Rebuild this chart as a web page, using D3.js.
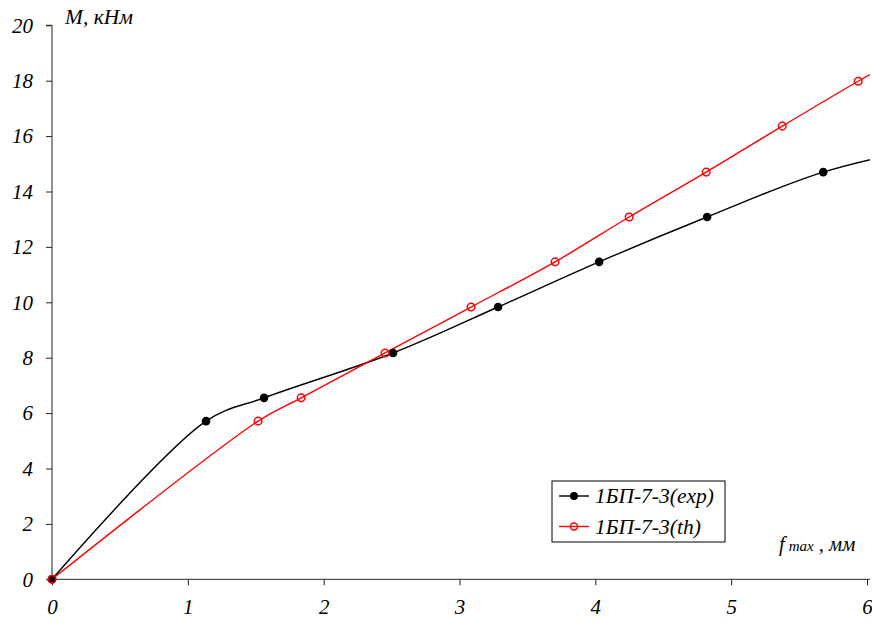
<!DOCTYPE html>
<html>
<head>
<meta charset="utf-8">
<script src="https://cdn.jsdelivr.net/npm/d3@7"></script>
<style>
  body { margin: 0; background: #fff; }
</style>
</head>
<body>
<svg width="872" height="623"></svg>
<script>
// data
var expX = [0, 1.134, 1.561, 2.511, 3.284, 4.028, 4.823, 5.678, 6.45];
var expY = [0, 5.71, 6.55, 8.17, 9.83, 11.46, 13.08, 14.70, 15.6];
var thX = [0, 1.517, 1.834, 2.452, 3.085, 3.704, 4.249, 4.816, 5.376, 5.935, 6.5];
var thY = [0, 5.71, 6.55, 8.17, 9.83, 11.46, 13.08, 14.70, 16.36, 17.98, 19.55];
var xTicks = [0, 1, 2, 3, 4, 5, 6];
var yTicks = [0, 2, 4, 6, 8, 10, 12, 14, 16, 18, 20];
var seriesNames = ["1БП-7-3(exp)", "1БП-7-3(th)"];

var FONT = "Liberation Serif";
var svg = d3.select("svg");

var x = d3.scaleLinear().domain([0, 6]).range([52, 867]);
var y = d3.scaleLinear().domain([0, 20]).range([579.3, 25.3]);

// axes
var xAxis = svg.append("g")
  .attr("transform", "translate(0," + y(0) + ")")
  .call(d3.axisBottom(x).tickValues(xTicks).tickSize(6).tickPadding(14).tickFormat(d3.format("d")));
xAxis.attr("font-family", FONT).attr("font-style", "italic").attr("font-size", 21);
xAxis.select(".domain").attr("d", "M" + x(0) + ",0H870").attr("stroke", "#222");
xAxis.selectAll(".tick line").attr("stroke", "#222");
xAxis.selectAll(".tick text").attr("fill", "#000");

var yAxis = svg.append("g")
  .attr("transform", "translate(" + x(0) + ",0)")
  .call(d3.axisLeft(y).tickValues(yTicks).tickSize(6).tickPadding(13).tickFormat(d3.format("d")));
yAxis.attr("font-family", FONT).attr("font-style", "italic").attr("font-size", 21);
yAxis.select(".domain").attr("d", "M-6," + y(20) + "H0V" + y(0)).attr("stroke", "#222");
yAxis.selectAll(".tick line").attr("stroke", "#222");
yAxis.selectAll(".tick text").attr("fill", "#000");

// axis titles
svg.append("text").attr("x", 65).attr("y", 24)
  .attr("font-family", FONT).attr("font-style", "italic").attr("font-size", 21.5).text("M, кНм");
var xt = svg.append("text").attr("x", 779).attr("y", 551)
  .attr("font-family", FONT).attr("font-style", "italic").attr("font-size", 20.5);
xt.append("tspan").text("f");
xt.append("tspan").attr("font-size", 15).attr("dx", 4).text("max");
xt.append("tspan").text(" , мм");

// clip to plot
svg.append("clipPath").attr("id", "clip")
  .append("rect").attr("x", 40).attr("y", 10).attr("width", 830).attr("height", 590);

var line = d3.line()
  .x(function(d) { return x(d[0]); })
  .y(function(d) { return y(d[1]); })
  .curve(d3.curveCatmullRom.alpha(0.5));

var expData = d3.zip(expX, expY);
var thData = d3.zip(thX, thY);

var plot = svg.append("g").attr("clip-path", "url(#clip)");

plot.append("path").datum(expData)
  .attr("d", line).attr("fill", "none").attr("stroke", "#000").attr("stroke-width", 1.4);
plot.append("path").datum(thData)
  .attr("d", line).attr("fill", "none").attr("stroke", "#f00").attr("stroke-width", 1.4);

plot.selectAll(".exp").data(expData.filter(function(d) { return d[0] <= 6; }))
  .enter().append("circle")
  .attr("cx", function(d) { return x(d[0]); })
  .attr("cy", function(d) { return y(d[1]); })
  .attr("r", 4.3).attr("fill", "#000");

plot.selectAll(".th").data(thData.filter(function(d) { return d[0] <= 6; }))
  .enter().append("circle")
  .attr("cx", function(d) { return x(d[0]); })
  .attr("cy", function(d) { return y(d[1]); })
  .attr("r", 3.8).attr("fill", "none").attr("stroke", "#f00").attr("stroke-width", 1.5);

// legend
var lg = svg.append("g").attr("transform", "translate(552,481)");
lg.append("rect").attr("width", 173).attr("height", 61)
  .attr("fill", "#fff").attr("stroke", "#000").attr("stroke-width", 1);
var colors = ["#000", "#f00"];
seriesNames.forEach(function(name, i) {
  var yy = 15 + i * 30.5;
  lg.append("line").attr("x1", 7).attr("x2", 37).attr("y1", yy).attr("y2", yy)
    .attr("stroke", colors[i]).attr("stroke-width", 1.4);
  if (i === 0) {
    lg.append("circle").attr("cx", 22).attr("cy", yy).attr("r", 4).attr("fill", "#000");
  } else {
    lg.append("circle").attr("cx", 22).attr("cy", yy).attr("r", 3.5)
      .attr("fill", "none").attr("stroke", "#f00").attr("stroke-width", 1.5);
  }
  lg.append("text").attr("x", 43).attr("y", yy + 7)
    .attr("font-family", FONT).attr("font-style", "italic").attr("font-size", 21.5).text(name);
});
</script>
</body>
</html>
